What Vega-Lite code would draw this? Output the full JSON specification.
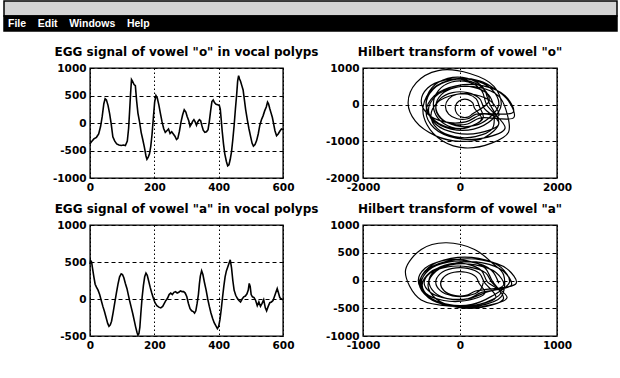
{
 "$schema": "https://vega.github.io/schema/vega-lite/v6.json",
 "background": "white",
 "padding": {"left": 3, "top": 0, "right": 0, "bottom": 0},
 "spacing": 13,
 "config": {
  "font": "DejaVu Sans",
  "view": {"stroke": "black", "strokeWidth": 1.4},
  "axis": {"domain": false, "ticks": false, "grid": true, "gridColor": "black", "gridOpacity": 1, "gridWidth": 1,
   "labelFont": "DejaVu Sans", "labelFontWeight": "bold", "labelFontSize": 10.5, "labelColor": "black",
   "labelPadding": 4, "labelFlush": false, "labelOverlap": false, "labelBound": false, "labelExpr": "'' + datum.value"},
  "axisX": {"gridDash": [1.5, 2.5]},
  "axisY": {"gridDash": [4, 3]},
  "title": {"font": "DejaVu Sans", "fontSize": 12, "fontWeight": "bold", "color": "black", "offset": 4, "anchor": "middle", "frame": "group"}
 },
 "datasets": {
  "egg_o": [
   {"n":0,"v":-380},{"n":6,"v":-330},{"n":12,"v":-290},{"n":20,"v":-260},{"n":27,"v":-200},{"n":33,"v":-60},{"n":38,"v":120},{"n":43,"v":350},{"n":47,"v":440},{"n":51,"v":420},{"n":56,"v":320},{"n":61,"v":170},{"n":66,"v":-20},{"n":71,"v":-250},{"n":77,"v":-330},{"n":83,"v":-380},{"n":90,"v":-400},{"n":97,"v":-410},{"n":104,"v":-400},{"n":110,"v":-410},{"n":116,"v":-330},{"n":120,"v":-100},{"n":123,"v":200},{"n":126,"v":520},{"n":129,"v":790},{"n":132,"v":760},{"n":137,"v":700},{"n":141,"v":680},{"n":145,"v":400},{"n":149,"v":180},{"n":154,"v":20},{"n":159,"v":-170},{"n":164,"v":-300},{"n":169,"v":-440},{"n":174,"v":-600},{"n":177,"v":-660},{"n":181,"v":-620},{"n":185,"v":-560},{"n":189,"v":-420},{"n":193,"v":-200},{"n":197,"v":100},{"n":201,"v":380},{"n":205,"v":500},{"n":209,"v":460},{"n":214,"v":330},{"n":219,"v":170},{"n":224,"v":20},{"n":229,"v":-100},{"n":234,"v":-170},{"n":239,"v":-140},{"n":244,"v":-110},{"n":249,"v":-190},{"n":254,"v":-160},{"n":259,"v":-200},{"n":264,"v":-240},{"n":269,"v":-300},{"n":273,"v":-280},{"n":278,"v":-150},{"n":283,"v":20},{"n":288,"v":150},{"n":293,"v":240},{"n":298,"v":200},{"n":302,"v":120},{"n":307,"v":40},{"n":311,"v":-60},{"n":315,"v":-20},{"n":319,"v":30},{"n":323,"v":60},{"n":327,"v":20},{"n":331,"v":-40},{"n":335,"v":20},{"n":340,"v":60},{"n":344,"v":40},{"n":348,"v":-50},{"n":352,"v":-130},{"n":357,"v":-170},{"n":362,"v":-160},{"n":367,"v":-120},{"n":371,"v":30},{"n":375,"v":220},{"n":379,"v":390},{"n":383,"v":420},{"n":387,"v":370},{"n":392,"v":340},{"n":397,"v":330},{"n":402,"v":320},{"n":405,"v":250},{"n":408,"v":60},{"n":411,"v":-150},{"n":415,"v":-380},{"n":419,"v":-560},{"n":424,"v":-700},{"n":428,"v":-780},{"n":432,"v":-760},{"n":436,"v":-660},{"n":440,"v":-520},{"n":444,"v":-300},{"n":448,"v":-50},{"n":452,"v":250},{"n":456,"v":520},{"n":459,"v":760},{"n":462,"v":860},{"n":465,"v":800},{"n":468,"v":760},{"n":472,"v":680},{"n":476,"v":600},{"n":480,"v":420},{"n":484,"v":240},{"n":489,"v":60},{"n":494,"v":-100},{"n":499,"v":-240},{"n":504,"v":-370},{"n":508,"v":-420},{"n":513,"v":-390},{"n":518,"v":-320},{"n":523,"v":-200},{"n":528,"v":-40},{"n":533,"v":60},{"n":538,"v":130},{"n":543,"v":220},{"n":548,"v":290},{"n":552,"v":380},{"n":555,"v":350},{"n":559,"v":260},{"n":563,"v":180},{"n":567,"v":100},{"n":571,"v":-20},{"n":575,"v":-140},{"n":580,"v":-230},{"n":585,"v":-200},{"n":590,"v":-150},{"n":595,"v":-110},{"n":600,"v":-120}
  ],
  "egg_a": [
   {"n":0,"v":470},{"n":2,"v":520},{"n":5,"v":500},{"n":8,"v":410},{"n":12,"v":300},{"n":16,"v":200},{"n":20,"v":160},{"n":25,"v":120},{"n":30,"v":60},{"n":35,"v":-20},{"n":40,"v":-100},{"n":45,"v":-170},{"n":50,"v":-250},{"n":55,"v":-330},{"n":59,"v":-370},{"n":63,"v":-350},{"n":67,"v":-300},{"n":72,"v":-180},{"n":77,"v":-50},{"n":82,"v":80},{"n":87,"v":200},{"n":92,"v":300},{"n":97,"v":340},{"n":101,"v":330},{"n":105,"v":290},{"n":110,"v":210},{"n":115,"v":140},{"n":119,"v":60},{"n":123,"v":-20},{"n":128,"v":-110},{"n":133,"v":-200},{"n":138,"v":-300},{"n":142,"v":-380},{"n":146,"v":-450},{"n":149,"v":-490},{"n":152,"v":-470},{"n":155,"v":-380},{"n":158,"v":-200},{"n":162,"v":20},{"n":166,"v":180},{"n":170,"v":300},{"n":174,"v":350},{"n":178,"v":320},{"n":182,"v":250},{"n":187,"v":160},{"n":192,"v":80},{"n":197,"v":10},{"n":202,"v":-50},{"n":208,"v":-90},{"n":214,"v":-110},{"n":220,"v":-120},{"n":226,"v":-100},{"n":231,"v":-60},{"n":236,"v":-20},{"n":241,"v":10},{"n":246,"v":60},{"n":251,"v":80},{"n":256,"v":60},{"n":261,"v":90},{"n":266,"v":100},{"n":271,"v":80},{"n":276,"v":90},{"n":281,"v":110},{"n":286,"v":100},{"n":291,"v":100},{"n":296,"v":80},{"n":301,"v":30},{"n":306,"v":-60},{"n":311,"v":-130},{"n":316,"v":-160},{"n":321,"v":-170},{"n":325,"v":-190},{"n":329,"v":-160},{"n":333,"v":-60},{"n":337,"v":60},{"n":340,"v":200},{"n":343,"v":310},{"n":347,"v":380},{"n":351,"v":330},{"n":356,"v":220},{"n":361,"v":120},{"n":366,"v":0},{"n":371,"v":-100},{"n":376,"v":-190},{"n":381,"v":-260},{"n":386,"v":-320},{"n":391,"v":-360},{"n":396,"v":-400},{"n":400,"v":-370},{"n":404,"v":-280},{"n":408,"v":-140},{"n":412,"v":20},{"n":416,"v":170},{"n":420,"v":300},{"n":424,"v":380},{"n":428,"v":430},{"n":432,"v":480},{"n":436,"v":530},{"n":440,"v":420},{"n":444,"v":250},{"n":448,"v":120},{"n":453,"v":50},{"n":458,"v":10},{"n":463,"v":-20},{"n":468,"v":-40},{"n":473,"v":0},{"n":478,"v":30},{"n":483,"v":40},{"n":488,"v":70},{"n":492,"v":120},{"n":495,"v":210},{"n":498,"v":170},{"n":501,"v":60},{"n":505,"v":30},{"n":510,"v":20},{"n":515,"v":-20},{"n":520,"v":-90},{"n":525,"v":-40},{"n":530,"v":-100},{"n":535,"v":-60},{"n":540,"v":-10},{"n":545,"v":-120},{"n":549,"v":-160},{"n":554,"v":-100},{"n":559,"v":-50},{"n":564,"v":-40},{"n":569,"v":-20},{"n":574,"v":40},{"n":578,"v":90},{"n":582,"v":140},{"n":586,"v":80},{"n":590,"v":20},{"n":595,"v":0},{"n":600,"v":-10}
  ],
  "hil_o": [
   {"i":0,"re":700,"im":-50},{"i":1,"re":586,"im":275},{"i":2,"re":286,"im":473},{"i":3,"re":-86,"im":473},{"i":4,"re":-386,"im":275},{"i":5,"re":-500,"im":-50},{"i":6,"re":-386,"im":-375},{"i":7,"re":-86,"im":-573},{"i":8,"re":286,"im":-573},{"i":9,"re":586,"im":-375},
   {"i":10,"re":800,"im":0},{"i":11,"re":657,"im":413},{"i":12,"re":283,"im":665},{"i":13,"re":-183,"im":665},{"i":14,"re":-558,"im":413},{"i":15,"re":-700,"im":0},{"i":16,"re":-558,"im":-413},{"i":17,"re":-183,"im":-665},{"i":18,"re":283,"im":-665},{"i":19,"re":657,"im":-413},
   {"i":20,"re":850,"im":0},{"i":21,"re":700,"im":500},{"i":22,"re":200,"im":850},{"i":23,"re":-450,"im":930},{"i":24,"re":-900,"im":600},{"i":25,"re":-1070,"im":50},{"i":26,"re":-920,"im":-450},{"i":27,"re":-500,"im":-850},{"i":28,"re":0,"im":-1000},{"i":29,"re":500,"im":-900},{"i":30,"re":800,"im":-500},
   {"i":31,"re":500,"im":-100},{"i":32,"re":405,"im":165},{"i":33,"re":155,"im":328},{"i":34,"re":-155,"im":328},{"i":35,"re":-405,"im":165},{"i":36,"re":-500,"im":-100},{"i":37,"re":-405,"im":-365},{"i":38,"re":-155,"im":-528},{"i":39,"re":155,"im":-528},{"i":40,"re":405,"im":-365},
   {"i":41,"re":1110,"im":-350},{"i":42,"re":1000,"im":100},{"i":43,"re":750,"im":400},{"i":44,"re":400,"im":650},{"i":45,"re":-100,"im":700},{"i":46,"re":-550,"im":450},{"i":47,"re":-760,"im":-50},{"i":48,"re":-680,"im":-550},{"i":49,"re":-350,"im":-1000},{"i":50,"re":100,"im":-1180},{"i":51,"re":650,"im":-1050},{"i":52,"re":1000,"im":-750},
   {"i":53,"re":950,"im":-150},{"i":54,"re":798,"im":234},{"i":55,"re":398,"im":468},{"i":56,"re":-98,"im":468},{"i":57,"re":-498,"im":234},{"i":58,"re":-650,"im":-150},{"i":59,"re":-498,"im":-534},{"i":60,"re":-98,"im":-768},{"i":61,"re":398,"im":-768},{"i":62,"re":798,"im":-534},
   {"i":63,"re":600,"im":50},{"i":64,"re":477,"im":463},{"i":65,"re":152,"im":715},{"i":66,"re":-252,"im":715},{"i":67,"re":-577,"im":463},{"i":68,"re":-700,"im":50},{"i":69,"re":-577,"im":-363},{"i":70,"re":-252,"im":-615},{"i":71,"re":152,"im":-615},{"i":72,"re":477,"im":-363},
   {"i":73,"re":400,"im":-50},{"i":74,"re":334,"im":157},{"i":75,"re":159,"im":283},{"i":76,"re":-59,"im":283},{"i":77,"re":-234,"im":157},{"i":78,"re":-300,"im":-50},{"i":79,"re":-234,"im":-257},{"i":80,"re":-59,"im":-383},{"i":81,"re":159,"im":-383},{"i":82,"re":334,"im":-257},
   {"i":83,"re":1100,"im":-200},{"i":84,"re":929,"im":243},{"i":85,"re":479,"im":513},{"i":86,"re":-79,"im":513},{"i":87,"re":-529,"im":243},{"i":88,"re":-700,"im":-200},{"i":89,"re":-529,"im":-643},{"i":90,"re":-79,"im":-913},{"i":91,"re":479,"im":-913},{"i":92,"re":929,"im":-643},
   {"i":93,"re":550,"im":0},{"i":94,"re":446,"im":384},{"i":95,"re":171,"im":618},{"i":96,"re":-171,"im":618},{"i":97,"re":-446,"im":384},{"i":98,"re":-550,"im":0},{"i":99,"re":-446,"im":-384},{"i":100,"re":-171,"im":-618},{"i":101,"re":171,"im":-618},{"i":102,"re":446,"im":-384},
   {"i":103,"re":300,"im":-100},{"i":104,"re":262,"im":48},{"i":105,"re":162,"im":138},{"i":106,"re":38,"im":138},{"i":107,"re":-62,"im":48},{"i":108,"re":-100,"im":-100},{"i":109,"re":-62,"im":-248},{"i":110,"re":38,"im":-338},{"i":111,"re":162,"im":-338},{"i":112,"re":262,"im":-248},
   {"i":113,"re":600,"im":100},{"i":114,"re":467,"im":454},{"i":115,"re":117,"im":670},{"i":116,"re":-317,"im":670},{"i":117,"re":-667,"im":454},{"i":118,"re":-800,"im":100},{"i":119,"re":-667,"im":-254},{"i":120,"re":-317,"im":-470},{"i":121,"re":117,"im":-470},{"i":122,"re":467,"im":-254},
   {"i":123,"re":800,"im":-300},{"i":124,"re":667,"im":54},{"i":125,"re":317,"im":270},{"i":126,"re":-117,"im":270},{"i":127,"re":-467,"im":54},{"i":128,"re":-600,"im":-300},{"i":129,"re":-467,"im":-654},{"i":130,"re":-117,"im":-870},{"i":131,"re":317,"im":-870},{"i":132,"re":667,"im":-654},{"i":133,"re":700,"im":-250}
  ],
  "hil_a": [
   {"i":0,"re":400,"im":-50},{"i":1,"re":324,"im":186},{"i":2,"re":124,"im":330},{"i":3,"re":-124,"im":330},{"i":4,"re":-324,"im":186},{"i":5,"re":-400,"im":-50},{"i":6,"re":-324,"im":-286},{"i":7,"re":-124,"im":-430},{"i":8,"re":124,"im":-430},{"i":9,"re":324,"im":-286},
   {"i":10,"re":510,"im":-30},{"i":11,"re":423,"im":236},{"i":12,"re":193,"im":398},{"i":13,"re":-93,"im":398},{"i":14,"re":-323,"im":236},{"i":15,"re":-410,"im":-30},{"i":16,"re":-323,"im":-296},{"i":17,"re":-93,"im":-458},{"i":18,"re":193,"im":-458},{"i":19,"re":423,"im":-296},
   {"i":20,"re":450,"im":100},{"i":21,"re":330,"im":320},{"i":22,"re":150,"im":560},{"i":23,"re":-150,"im":680},{"i":24,"re":-400,"im":560},{"i":25,"re":-560,"im":200},{"i":26,"re":-520,"im":-100},{"i":27,"re":-400,"im":-350},{"i":28,"re":-100,"im":-460},{"i":29,"re":200,"im":-430},{"i":30,"re":420,"im":-220},
   {"i":31,"re":280,"im":-20},{"i":32,"re":223,"im":175},{"i":33,"re":73,"im":294},{"i":34,"re":-113,"im":294},{"i":35,"re":-263,"im":175},{"i":36,"re":-320,"im":-20},{"i":37,"re":-263,"im":-215},{"i":38,"re":-113,"im":-334},{"i":39,"re":73,"im":-334},{"i":40,"re":223,"im":-215},
   {"i":41,"re":530,"im":-80},{"i":42,"re":448,"im":168},{"i":43,"re":233,"im":319},{"i":44,"re":-33,"im":319},{"i":45,"re":-248,"im":168},{"i":46,"re":-330,"im":-80},{"i":47,"re":-248,"im":-328},{"i":48,"re":-33,"im":-479},{"i":49,"re":233,"im":-479},{"i":50,"re":448,"im":-328},
   {"i":51,"re":330,"im":0},{"i":52,"re":258,"im":224},{"i":53,"re":68,"im":361},{"i":54,"re":-168,"im":361},{"i":55,"re":-358,"im":224},{"i":56,"re":-430,"im":0},{"i":57,"re":-358,"im":-224},{"i":58,"re":-168,"im":-361},{"i":59,"re":68,"im":-361},{"i":60,"re":258,"im":-224},
   {"i":61,"re":200,"im":-60},{"i":62,"re":162,"im":70},{"i":63,"re":62,"im":149},{"i":64,"re":-62,"im":149},{"i":65,"re":-162,"im":70},{"i":66,"re":-200,"im":-60},{"i":67,"re":-162,"im":-190},{"i":68,"re":-62,"im":-269},{"i":69,"re":62,"im":-269},{"i":70,"re":162,"im":-190},
   {"i":71,"re":580,"im":-50},{"i":72,"re":485,"im":210},{"i":73,"re":235,"im":368},{"i":74,"re":-75,"im":368},{"i":75,"re":-325,"im":210},{"i":76,"re":-420,"im":-50},{"i":77,"re":-325,"im":-310},{"i":78,"re":-75,"im":-468},{"i":79,"re":235,"im":-468},{"i":80,"re":485,"im":-310},
   {"i":81,"re":330,"im":-40},{"i":82,"re":264,"im":137},{"i":83,"re":89,"im":245},{"i":84,"re":-129,"im":245},{"i":85,"re":-304,"im":137},{"i":86,"re":-370,"im":-40},{"i":87,"re":-304,"im":-217},{"i":88,"re":-129,"im":-325},{"i":89,"re":89,"im":-325},{"i":90,"re":264,"im":-217},
   {"i":91,"re":450,"im":-80},{"i":92,"re":370,"im":144},{"i":93,"re":160,"im":281},{"i":94,"re":-100,"im":281},{"i":95,"re":-310,"im":144},{"i":96,"re":-390,"im":-80},{"i":97,"re":-310,"im":-304},{"i":98,"re":-100,"im":-441},{"i":99,"re":160,"im":-441},{"i":100,"re":370,"im":-304},
   {"i":101,"re":250,"im":-30},{"i":102,"re":203,"im":123},{"i":103,"re":78,"im":217},{"i":104,"re":-78,"im":217},{"i":105,"re":-203,"im":123},{"i":106,"re":-250,"im":-30},{"i":107,"re":-203,"im":-183},{"i":108,"re":-78,"im":-277},{"i":109,"re":78,"im":-277},{"i":110,"re":203,"im":-183},{"i":111,"re":240,"im":-40}
  ]
 },
 "vconcat": [
  {
   "width": 527, "height": 30,
   "view": {"stroke": null},
   "data": {"values": [{"part": "title", "label": ""}, {"part": "menu", "label": "File\u00a0\u00a0\u00a0\u00a0Edit\u00a0\u00a0\u00a0\u00a0Windows\u00a0\u00a0\u00a0\u00a0Help"}]},
   "encoding": {
    "y": {"field": "part", "type": "nominal", "scale": {"domain": ["title", "menu"], "paddingInner": 0, "paddingOuter": 0}, "axis": null},
    "x": {"datum": 0, "type": "quantitative", "scale": {"domain": [86, 613], "nice": false, "zero": false}, "axis": null}
   },
   "layer": [
    {
     "mark": {"type": "rect", "stroke": "black", "strokeWidth": 1.5},
     "encoding": {
      "x2": {"datum": 613},
      "color": {"field": "part", "type": "nominal", "scale": {"domain": ["title", "menu"], "range": ["#d4d4d4", "#000000"]}, "legend": null}
     }
    },
    {
     "mark": {"type": "text", "color": "white", "align": "left", "baseline": "middle", "font": "Liberation Sans", "fontWeight": "bold", "fontSize": 10.5, "dx": 4},
     "encoding": {"text": {"field": "label"}}
    }
   ]
  },
  {
   "columns": 2,
   "spacing": {"row": 8, "column": 4},
   "concat": [
    {
     "width": 193, "height": 110,
     "title": "EGG signal of vowel \"o\" in vocal polyps",
     "data": {"name": "egg_o"},
     "mark": {"type": "line", "color": "black", "strokeWidth": 1.6},
     "encoding": {
      "x": {"field": "n", "type": "quantitative", "scale": {"domain": [0, 600], "nice": false}, "axis": {"values": [0, 200, 400, 600], "title": null}},
      "y": {"field": "v", "type": "quantitative", "scale": {"domain": [-1000, 1000], "nice": false, "zero": false}, "axis": {"values": [-1000, -500, 0, 500, 1000], "title": null}}
     }
    },
    {
     "width": 194, "height": 110,
     "title": "Hilbert transform of vowel \"o\"",
     "data": {"name": "hil_o"},
     "mark": {"type": "line", "color": "black", "strokeWidth": 1.2, "interpolate": "catmull-rom"},
     "encoding": {
      "x": {"field": "re", "type": "quantitative", "scale": {"domain": [-2000, 2000], "nice": false}, "axis": {"values": [-2000, 0, 2000], "title": null}},
      "y": {"field": "im", "type": "quantitative", "scale": {"domain": [-2000, 1000], "nice": false, "zero": false}, "axis": {"values": [-2000, -1000, 0, 1000], "title": null}},
      "order": {"field": "i", "type": "quantitative"}
     }
    },
    {
     "width": 193, "height": 111,
     "title": "EGG signal of vowel \"a\" in vocal polyps",
     "data": {"name": "egg_a"},
     "mark": {"type": "line", "color": "black", "strokeWidth": 1.6},
     "encoding": {
      "x": {"field": "n", "type": "quantitative", "scale": {"domain": [0, 600], "nice": false}, "axis": {"values": [0, 200, 400, 600], "title": null}},
      "y": {"field": "v", "type": "quantitative", "scale": {"domain": [-500, 1000], "nice": false, "zero": false}, "axis": {"values": [-500, 0, 500, 1000], "title": null}}
     }
    },
    {
     "width": 194, "height": 111,
     "title": "Hilbert transform of vowel \"a\"",
     "data": {"name": "hil_a"},
     "mark": {"type": "line", "color": "black", "strokeWidth": 1.2, "interpolate": "catmull-rom"},
     "encoding": {
      "x": {"field": "re", "type": "quantitative", "scale": {"domain": [-1000, 1000], "nice": false}, "axis": {"values": [-1000, 0, 1000], "title": null}},
      "y": {"field": "im", "type": "quantitative", "scale": {"domain": [-1000, 1000], "nice": false, "zero": false}, "axis": {"values": [-1000, -500, 0, 500, 1000], "title": null}},
      "order": {"field": "i", "type": "quantitative"}
     }
    }
   ]
  }
 ]
}
